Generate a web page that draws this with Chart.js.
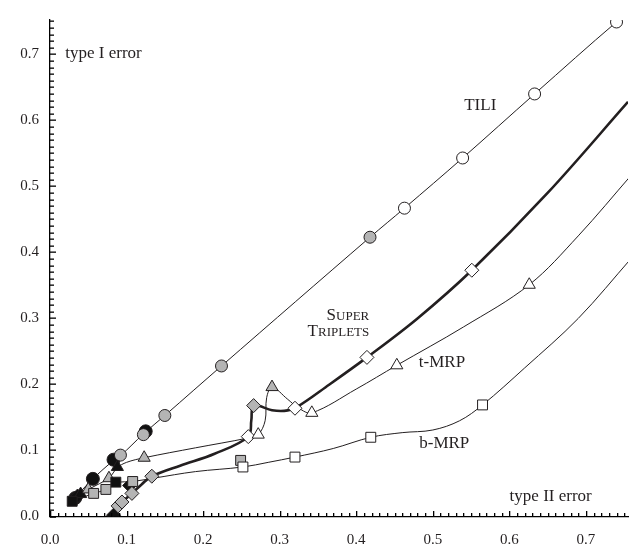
<!DOCTYPE html>
<html><head><meta charset="utf-8">
<script src="https://cdn.jsdelivr.net/npm/chart.js@4"></script>
<style>html,body{margin:0;padding:0;background:#fff}#wrap{width:636px;height:544px}</style>
</head><body><div id="wrap"><canvas id="c" width="636" height="544"></canvas></div>
<script>
// ---- tick labels ----
const xTickLabels = ['0.0','0.1','0.2','0.3','0.4','0.5','0.6','0.7'];
const yTickLabels = ['0.0','0.1','0.2','0.3','0.4','0.5','0.6','0.7'];

// ---- TILI (circles) ----
const tiliLine  = [[0.028,0.023],[0.056,0.057],[0.083,0.085],[0.092,0.092],[0.122,0.125],[0.150,0.153],[0.224,0.228],[0.418,0.423],[0.463,0.467],[0.539,0.543],[0.633,0.640],[0.740,0.749],[0.760,0.765]];
const tiliBlack = [[0.033,0.028],[0.056,0.057],[0.083,0.086],[0.125,0.129]];
const tiliGrey  = [[0.092,0.093],[0.122,0.124],[0.150,0.153],[0.224,0.228],[0.418,0.423]];
const tiliWhite = [[0.463,0.467],[0.539,0.543],[0.633,0.640],[0.740,0.749]];

// ---- Super Triplets (diamonds) ----
const stLine  = [[0.081,0.000],[0.089,0.016],[0.094,0.022],[0.107,0.035],[0.120,0.049],[0.133,0.061],[0.170,0.077],[0.215,0.095],[0.259,0.121],[0.263,0.146],[0.266,0.168],[0.290,0.161],[0.306,0.160],[0.320,0.164],[0.365,0.200],[0.414,0.241],[0.480,0.300],[0.551,0.373],[0.650,0.490],[0.755,0.628]];
const stBlack = [[0.036,0.031],[0.083,0.002],[0.104,0.047]];
const stGrey  = [[0.089,0.016],[0.094,0.022],[0.107,0.035],[0.133,0.061],[0.266,0.168]];
const stWhite = [[0.259,0.121],[0.320,0.164],[0.414,0.241],[0.551,0.373]];

// ---- t-MRP (triangles) ----
const tmrpLine  = [[0.030,0.025],[0.040,0.034],[0.050,0.041],[0.065,0.050],[0.077,0.058],[0.088,0.074],[0.100,0.082],[0.123,0.089],[0.190,0.104],[0.259,0.119],[0.272,0.124],[0.281,0.145],[0.283,0.180],[0.290,0.196],[0.310,0.178],[0.325,0.164],[0.342,0.157],[0.400,0.193],[0.453,0.229],[0.540,0.287],[0.626,0.351],[0.690,0.425],[0.760,0.518]];
const tmrpBlack = [[0.040,0.034],[0.088,0.075]];
const tmrpGrey  = [[0.050,0.041],[0.077,0.058],[0.123,0.089],[0.290,0.196]];
const tmrpWhite = [[0.272,0.124],[0.342,0.157],[0.453,0.229],[0.626,0.351]];

// ---- b-MRP (squares) ----
const bmrpLine  = [[0.029,0.024],[0.045,0.030],[0.057,0.035],[0.073,0.041],[0.086,0.051],[0.108,0.053],[0.135,0.058],[0.190,0.068],[0.252,0.075],[0.285,0.082],[0.320,0.090],[0.370,0.103],[0.419,0.120],[0.460,0.127],[0.500,0.131],[0.535,0.145],[0.565,0.169],[0.620,0.225],[0.690,0.300],[0.760,0.392]];
const bmrpBlack = [[0.029,0.023],[0.086,0.052]];
const bmrpGrey  = [[0.057,0.035],[0.073,0.041],[0.108,0.053],[0.249,0.085]];
const bmrpWhite = [[0.252,0.075],[0.320,0.090],[0.419,0.120],[0.565,0.169]];

// ---- text labels (data coords) ----
const labelTexts = ['type I error','TILI','t-MRP','b-MRP','type II error'];
const labelPos   = [[0.020,0.701],[0.562,0.622],[0.512,0.233],[0.515,0.111],[0.654,0.031]];
const labelAlign = ['left','center','center','center','center'];

const INK = '#231f20';
const FILL = {black:'#111111', grey:'#b4b4b4', white:'#ffffff'};
const pts = a => a.map(([x,y]) => ({x, y}));

function lineDs(data, width){
  return {type:'line', data:pts(data), borderColor:INK, borderWidth:width, pointRadius:0,
          tension:0.35, fill:false, order:2};
}
function markDs(data, style, fill, r){
  return {type:'scatter', data:pts(data), showLine:false, pointStyle:style, pointRadius:r,
          pointHoverRadius:r, pointBackgroundColor:fill, pointBorderColor:INK, pointBorderWidth:1, order:1};
}

const datasets = [
  lineDs(tiliLine,1), lineDs(tmrpLine,1), lineDs(bmrpLine,1), lineDs(stLine,2.6),
  markDs(bmrpWhite,'rect',FILL.white,7), markDs(bmrpGrey,'rect',FILL.grey,7), markDs(bmrpBlack,'rect',FILL.black,7),
  markDs(tmrpWhite,'triangle',FILL.white,7), markDs(tmrpGrey,'triangle',FILL.grey,7), markDs(tmrpBlack,'triangle',FILL.black,7),
  markDs(stWhite,'rectRot',FILL.white,7), markDs(stGrey,'rectRot',FILL.grey,7), markDs(stBlack,'rectRot',FILL.black,7),
  markDs(tiliWhite,'circle',FILL.white,6), markDs(tiliGrey,'circle',FILL.grey,6), markDs(tiliBlack,'circle',FILL.black,6.5)
];

const decor = {
  id:'decor',
  afterDraw(chart){
    const ctx = chart.ctx, xs = chart.scales.x, ys = chart.scales.y;
    const ca = chart.chartArea;
    ctx.save();
    ctx.fillStyle = '#000';
    const left = Math.round(ca.left), bottom = Math.round(ca.bottom);
    for (let i = 0; i <= 75; i++){
      const v = i/100;
      const len = (i % 10 === 0) ? 6 : 4;
      const px = Math.round(xs.getPixelForValue(v));
      if (px <= ca.right + 1) ctx.fillRect(px, bottom - len, 1.3, len);
      const py = Math.round(ys.getPixelForValue(v));
      ctx.fillRect(left, py - 0.5, len, 1.3);
    }
    ctx.fillStyle = INK;
    ctx.textBaseline = 'middle';
    ctx.font = '17px "Liberation Serif", "Times New Roman", serif';
    labelTexts.forEach((t,i) => {
      ctx.textAlign = labelAlign[i];
      ctx.fillText(t, xs.getPixelForValue(labelPos[i][0]), ys.getPixelForValue(labelPos[i][1]));
    });
    // small caps "SUPER TRIPLETS", right aligned
    const drawSC = (word, xv, yv) => {
      const big = '17px "Liberation Serif", serif', small = '13px "Liberation Serif", serif';
      ctx.font = big; const w1 = ctx.measureText(word[0]).width;
      ctx.font = small; const w2 = ctx.measureText(word.slice(1)).width;
      const xr = xs.getPixelForValue(xv), y = ys.getPixelForValue(yv);
      ctx.textAlign = 'left'; ctx.textBaseline = 'alphabetic';
      ctx.font = big; ctx.fillText(word[0], xr - w1 - w2, y);
      ctx.font = small; ctx.fillText(word.slice(1), xr - w2, y);
    };
    drawSC('SUPER', 0.417, 0.297);
    drawSC('TRIPLETS', 0.417, 0.273);
    ctx.restore();
  }
};

new Chart(document.getElementById('c'), {
  data:{datasets},
  options:{
    responsive:false, animation:false,
    layout:{padding:{top:18, right:1, left:0, bottom:0}},
    plugins:{legend:{display:false}, tooltip:{enabled:false}},
    scales:{
      x:{type:'linear', min:0, max:0.755,
         grid:{display:false, drawTicks:false},
         border:{display:true, color:'#000', width:1.3},
         ticks:{stepSize:0.1, includeBounds:false, padding:15, color:INK,
                font:{family:'"Liberation Serif", serif', size:15},
                callback:(v)=>{const i=Math.round(v*10); return Math.abs(v*10-i)<1e-6 ? xTickLabels[i] : '';}},
         afterFit:(s)=>{s.height = 27.5;}},
      y:{type:'linear', min:0, max:0.752,
         grid:{display:false, drawTicks:false},
         border:{display:true, color:'#000', width:1.3},
         ticks:{stepSize:0.1, includeBounds:false, padding:11, color:INK,
                font:{family:'"Liberation Serif", serif', size:15},
                callback:(v)=>{const i=Math.round(v*10); return Math.abs(v*10-i)<1e-6 ? yTickLabels[i] : '';}},
         afterFit:(s)=>{s.width = 50;}}
    }
  },
  plugins:[decor]
});
</script></body></html>
